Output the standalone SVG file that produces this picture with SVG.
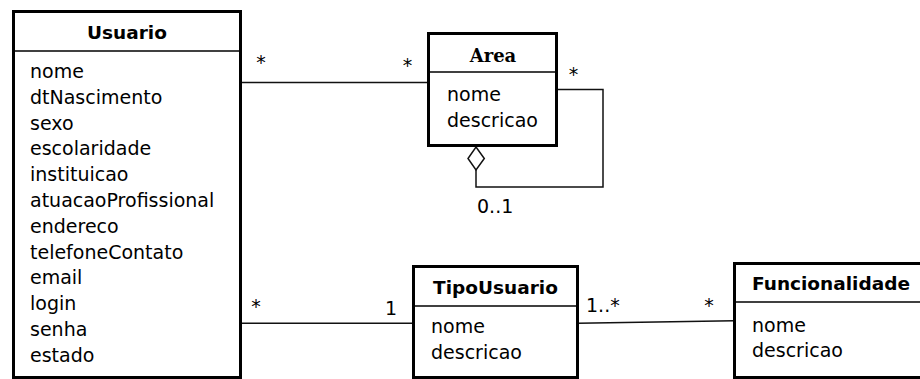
<svg xmlns="http://www.w3.org/2000/svg" width="920" height="379" viewBox="0 0 920 379">
<style>
.box{fill:#fff;stroke:#000;stroke-width:3}
.div{stroke:#000;stroke-width:1.5}
.title{font-family:"DejaVu Sans",sans-serif;font-weight:bold;font-size:18.5px;fill:#000}
.stitle{font-family:"DejaVu Serif",serif;font-weight:bold;font-size:18px;fill:#000}
.attr{font-family:"DejaVu Sans",sans-serif;font-size:19px;fill:#000}
.lbl{font-family:"DejaVu Sans",sans-serif;font-size:19px;fill:#000}
.conn{fill:none;stroke:#111;stroke-width:1.5}
</style>
<rect width="920" height="379" fill="#fff"/>
<g id="connectors">
<line class="conn" x1="242" y1="82.5" x2="428" y2="82.5"/>
<polyline class="conn" points="558,89.5 603,89.5 603,187 476,187 476,170"/>
<polygon points="476,147 484.3,158.5 476,170 468,158.5" fill="#fff" stroke="#111" stroke-width="1.5"/>
<line class="conn" x1="242" y1="323.3" x2="413" y2="323.3"/>
<line class="conn" x1="578" y1="323.3" x2="734" y2="320.8"/>
<text class="lbl" x="261" y="69" text-anchor="middle">*</text>
<text class="lbl" x="407.5" y="72" text-anchor="middle">*</text>
<text class="lbl" x="573.5" y="81" text-anchor="middle">*</text>
<text class="lbl" x="477" y="213">0..1</text>
<text class="lbl" x="256" y="313" text-anchor="middle">*</text>
<text class="lbl" x="397" y="315" text-anchor="end">1</text>
<text class="lbl" x="586" y="312">1..*</text>
<text class="lbl" x="709" y="312" text-anchor="middle">*</text>
</g>
<g id="Usuario">
<rect class="box" x="13.5" y="11.5" width="227" height="366"/>
<line class="div" x1="13.5" y1="51" x2="240.5" y2="51"/>
<text class="title" x="127" y="39" text-anchor="middle">Usuario</text>
<text class="attr" x="30" y="78">nome</text>
<text class="attr" x="30" y="103.8">dtNascimento</text>
<text class="attr" x="30" y="129.6">sexo</text>
<text class="attr" x="30" y="155.4">escolaridade</text>
<text class="attr" x="30" y="181.2">instituicao</text>
<text class="attr" x="30" y="207">atuacaoProfissional</text>
<text class="attr" x="30" y="232.8">endereco</text>
<text class="attr" x="30" y="258.6">telefoneContato</text>
<text class="attr" x="30" y="284.4">email</text>
<text class="attr" x="30" y="310.2">login</text>
<text class="attr" x="30" y="336">senha</text>
<text class="attr" x="30" y="361.8">estado</text>
</g>
<g id="Area">
<rect class="box" x="428.5" y="33.5" width="128" height="112"/>
<line class="div" x1="428.5" y1="72" x2="556.5" y2="72"/>
<text class="stitle" x="493" y="62" text-anchor="middle">Area</text>
<text class="attr" x="447" y="101">nome</text>
<text class="attr" x="447" y="127">descricao</text>
</g>
<g id="TipoUsuario">
<rect class="box" x="413.5" y="266.5" width="164" height="111"/>
<line class="div" x1="413.5" y1="306" x2="577.5" y2="306"/>
<text class="title" x="495.5" y="294" text-anchor="middle">TipoUsuario</text>
<text class="attr" x="431" y="333">nome</text>
<text class="attr" x="431" y="359">descricao</text>
</g>
<g id="Funcionalidade">
<rect class="box" x="734.5" y="263.5" width="200" height="114"/>
<line class="div" x1="734.5" y1="302" x2="934.5" y2="302"/>
<text class="title" x="752" y="290">Funcionalidade</text>
<text class="attr" x="752" y="332">nome</text>
<text class="attr" x="752" y="357">descricao</text>
</g>
</svg>
